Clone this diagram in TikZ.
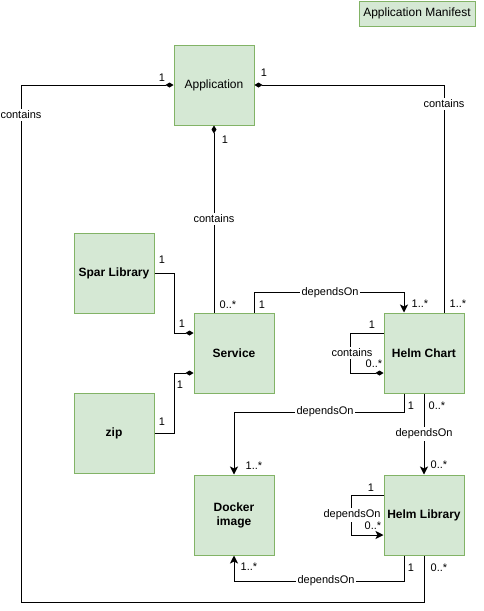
\documentclass[tikz,border=0pt]{standalone}
\usepackage{fontspec}
\setmainfont{Liberation Sans}
\usetikzlibrary{arrows.meta,calc}
\definecolor{boxfill}{HTML}{D5E8D4}
\definecolor{boxline}{HTML}{82B366}
\begin{document}
\begin{tikzpicture}[x=1pt,y=-1pt,
  box/.style={draw=boxline,fill=boxfill,minimum width=80pt,minimum height=80pt,inner sep=0pt,line width=1pt,align=center,font=\fontsize{12}{14}\selectfont},
  ent/.style={box,font=\fontsize{12}{14}\selectfont\bfseries},
  conn/.style={line width=1pt,black},
  comp/.style={conn,-{Diamond[length=8pt,width=5pt]}},
  rcomp/.style={conn,{Diamond[length=8pt,width=5pt]}-},
  dep/.style={conn,-{Stealth[length=8pt,width=8pt,inset=2pt]}},
  lbl/.style={font=\fontsize{11}{13}\selectfont,inner sep=1pt},
  midl/.style={lbl,fill=white,inner sep=1.5pt}]
\useasboundingbox (0,0) rectangle (484,611);

\node[box,minimum width=116pt,minimum height=25pt] (manifest) at (417,13.5) {Application Manifest};
\node[box] (app) at (214,85) {Application};
\node[ent] (spar) at (114,273) {Spar Library};
\node[ent] (svc) at (234,353) {Service};
\node[ent] (zip) at (114,433) {zip};
\node[ent] (hc) at (424,353) {Helm Chart};
\node[ent] (docker) at (234,515) {Docker\\image};
\node[ent] (hl) at (424,515) {Helm Library};

% Application -- Helm Library (outer loop)
\coordinate (outerL) at (21,602);
\draw[rcomp] (app.west) -| (outerL) -| (hl.south);
\node[midl] (c1) at (21,115) {contains};
\node[lbl] at (162,78) {1};
\node[lbl] at (439,568) {0..*};

% Application -- Helm Chart
\draw[rcomp] (app.east) -| ($(hc.north)+(20,0)$);
\node[midl] (c2) at (444,104) {contains};
\node[lbl] at (264,73) {1};
\node[lbl] at (458,304) {1..*};

% Application -- Service
\draw[rcomp] (app.south) -- (app.south |- svc.north);
\node[midl] (c3) at (214,219) {contains};
\node[lbl] at (225,140) {1};
\node[lbl] at (228,305) {0..*};

% Spar Library -- Service
\draw[comp] (spar.east) -- ++(20,0) |- ($(svc.west)+(0,-20)$);
\node[lbl] at (162,260) {1};
\node[lbl] at (182,324) {1};

% zip -- Service
\draw[comp] (zip.east) -- ++(20,0) |- ($(svc.west)+(0,20)$);
\node[lbl] at (162,422) {1};
\node[lbl] at (180,385) {1};

% Service -> Helm Chart
\draw[dep] ($(svc.north)+(20,0)$) -- ++(0,-20) -| ($(hc.north)+(-20,0)$);
\node[midl] (d1) at (330,293) {dependsOn};
\node[lbl] at (262,305) {1};
\node[lbl] at (420,304) {1..*};

% Helm Chart self loop
\draw[comp] ($(hc.west)+(0,-20)$) -- ++(-33,0) |- ($(hc.west)+(0,20)$);
\node[midl] (c4) at (352,353) {contains};
\node[lbl] at (372,325) {1};
\node[lbl] at (374,364) {0..*};

% Helm Chart -> Docker image
\draw[dep] ($(hc.south)+(-20,0)$) -- ++(0,19) -| (docker.north);
\node[midl] (d2) at (325,412) {dependsOn};
\node[lbl] at (411,406) {1};
\node[lbl] at (254,466) {1..*};

% Helm Chart -> Helm Library
\draw[dep] (hc.south) -- (hl.north);
\node[midl] (d3) at (424,434) {dependsOn};
\node[lbl] at (437,406) {0..*};
\node[lbl] at (439,465) {0..*};

% Helm Library self loop
\draw[dep] ($(hl.west)+(0,-20)$) -- ++(-32,0) |- ($(hl.west)+(0,20)$);
\node[midl] (d4) at (352,515) {dependsOn};
\node[lbl] at (371,488) {1};
\node[lbl] at (373,526) {0..*};

% Helm Library -> Docker image
\draw[dep] ($(hl.south)+(-20,0)$) -- ++(0,26) -| (docker.south);
\node[midl] (d5) at (326,581) {dependsOn};
\node[lbl] at (411,568) {1};
\node[lbl] at (249,567) {1..*};
\end{tikzpicture}
\end{document}
